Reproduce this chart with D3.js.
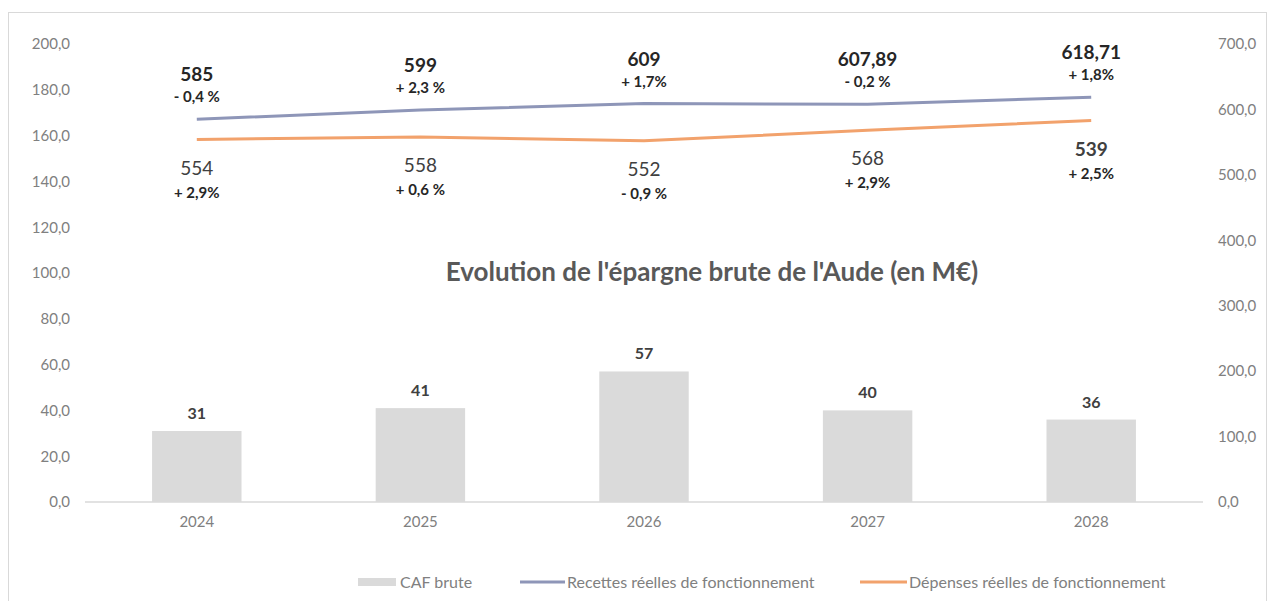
<!DOCTYPE html>
<html>
<head>
<meta charset="utf-8">
<script src="https://cdn.jsdelivr.net/npm/d3@7"></script>
<style>
  body { margin: 0; background: #fff; }
  svg { display: block; font-family: Lato, "Open Sans", sans-serif; }
</style>
</head>
<body>
<div id="chart"></div>
<script>
// data
const years = ["2024", "2025", "2026", "2027", "2028"];
const cafBrute = [31, 41, 57, 40, 36];
const recettes = [585, 599, 609, 607.89, 618.71];
const depenses = [554, 558, 552, 568, 583];
const recettesLabels = ["585", "599", "609", "607,89", "618,71"];
const recettesPct = ["- 0,4 %", "+ 2,3 %", "+ 1,7%", "- 0,2 %", "+ 1,8%"];
const depensesLabels = ["554", "558", "552", "568", "539"];
const depensesPct = ["+ 2,9%", "+ 0,6 %", "- 0,9 %", "+ 2,9%", "+ 2,5%"];
const leftTicks = [0, 20, 40, 60, 80, 100, 120, 140, 160, 180, 200];
const rightTicks = [0, 100, 200, 300, 400, 500, 600, 700];

const width = 1276, height = 601;
const fmt = v => d3.format(".1f")(v).replace(".", ",");

const svg = d3.select("#chart").append("svg")
  .attr("width", width)
  .attr("height", height);

// chart frame
svg.append("rect")
  .attr("x", 8.5).attr("y", 12.5)
  .attr("width", 1258).attr("height", 600)
  .attr("fill", "#fff")
  .attr("stroke", "#d9d9d9");

const x = d3.scaleBand().domain(years).range([85, 1203])
  .paddingInner(0.6).paddingOuter(0.3);
const yLeft = d3.scaleLinear().domain([0, 200]).range([502, 44]);
const yRight = d3.scaleLinear().domain([0, 700]).range([502, 44]);
const cx = d => x(d) + x.bandwidth() / 2;

// axes
const leftAxis = svg.append("g")
  .attr("transform", "translate(70,0)")
  .call(d3.axisLeft(yLeft).tickValues(leftTicks).tickFormat(fmt).tickSize(0).tickPadding(0));
const rightAxis = svg.append("g")
  .attr("transform", "translate(1218,0)")
  .call(d3.axisRight(yRight).tickValues(rightTicks).tickFormat(fmt).tickSize(0).tickPadding(0));
const bottomAxis = svg.append("g")
  .attr("transform", "translate(0,502)")
  .call(d3.axisBottom(x).tickSize(0).tickPadding(14));
[leftAxis, rightAxis, bottomAxis].forEach(g => {
  g.select(".domain").remove();
  g.selectAll("text")
    .attr("fill", "#808080")
    .style("font-size", "15px")
    .style("font-family", "Lato, sans-serif");
});
svg.append("line")
  .attr("x1", 85).attr("x2", 1203)
  .attr("y1", 502).attr("y2", 502)
  .attr("stroke", "#d9d9d9")
  .attr("stroke-width", 1.5);

// title
svg.append("text")
  .attr("x", 712).attr("y", 281)
  .attr("text-anchor", "middle")
  .attr("fill", "#595959")
  .style("font-size", "26px")
  .style("font-weight", "bold")
  .text("Evolution de l'épargne brute de l'Aude (en M€)");

// bars
svg.append("g").selectAll("rect")
  .data(cafBrute)
  .join("rect")
  .attr("x", (d, i) => x(years[i]))
  .attr("width", x.bandwidth())
  .attr("y", d => yLeft(d))
  .attr("height", d => yLeft(0) - yLeft(d))
  .attr("fill", "#dadada");
svg.append("g").selectAll("text")
  .data(cafBrute)
  .join("text")
  .attr("x", (d, i) => cx(years[i]))
  .attr("y", d => yLeft(d) - 12)
  .attr("text-anchor", "middle")
  .attr("fill", "#404040")
  .style("font-size", "16px")
  .style("font-weight", "bold")
  .text(d => d);

// lines
const line = d3.line()
  .x((d, i) => cx(years[i]))
  .y(d => yRight(d));
svg.append("path")
  .datum(recettes)
  .attr("d", line)
  .attr("fill", "none")
  .attr("stroke", "#8e96b8")
  .attr("stroke-width", 3);
svg.append("path")
  .datum(depenses)
  .attr("d", line)
  .attr("fill", "none")
  .attr("stroke", "#f2a26c")
  .attr("stroke-width", 3);

// line labels
const recG = svg.append("g").selectAll("g")
  .data(recettes)
  .join("g")
  .attr("transform", (d, i) => `translate(${cx(years[i])},${yRight(d)})`);
recG.append("text")
  .attr("y", -38)
  .attr("text-anchor", "middle")
  .attr("fill", "#262626")
  .style("font-size", "19px")
  .style("font-weight", "bold")
  .text((d, i) => recettesLabels[i]);
recG.append("text")
  .attr("y", -17)
  .attr("text-anchor", "middle")
  .attr("fill", "#262626")
  .style("font-size", "15px")
  .style("font-weight", "bold")
  .text((d, i) => recettesPct[i]);

const depG = svg.append("g").selectAll("g")
  .data(depenses)
  .join("g")
  .attr("transform", (d, i) => `translate(${cx(years[i])},${yRight(d)})`);
depG.append("text")
  .attr("y", 35)
  .attr("text-anchor", "middle")
  .attr("fill", "#404040")
  .style("font-size", "19px")
  .style("font-weight", (d, i) => i === 4 ? "bold" : "normal")
  .text((d, i) => depensesLabels[i]);
depG.append("text")
  .attr("y", 58)
  .attr("text-anchor", "middle")
  .attr("fill", "#262626")
  .style("font-size", "15px")
  .style("font-weight", "bold")
  .text((d, i) => depensesPct[i]);

// legend
const legend = svg.append("g").attr("transform", "translate(0,582)");
legend.append("rect")
  .attr("x", 358).attr("y", -4).attr("width", 38).attr("height", 8)
  .attr("fill", "#dadada");
legend.append("line")
  .attr("x1", 520).attr("x2", 565).attr("y1", 0).attr("y2", 0)
  .attr("stroke", "#8e96b8").attr("stroke-width", 3);
legend.append("line")
  .attr("x1", 860).attr("x2", 907).attr("y1", 0).attr("y2", 0)
  .attr("stroke", "#f2a26c").attr("stroke-width", 3);
[["CAF brute", 400], ["Recettes réelles de fonctionnement", 567], ["Dépenses réelles de fonctionnement", 909]]
  .forEach(([t, lx]) => {
    legend.append("text")
      .attr("x", lx).attr("y", 0).attr("dy", "0.35em")
      .attr("fill", "#808080")
      .style("font-size", "16px")
      .text(t);
  });
</script>
</body>
</html>
